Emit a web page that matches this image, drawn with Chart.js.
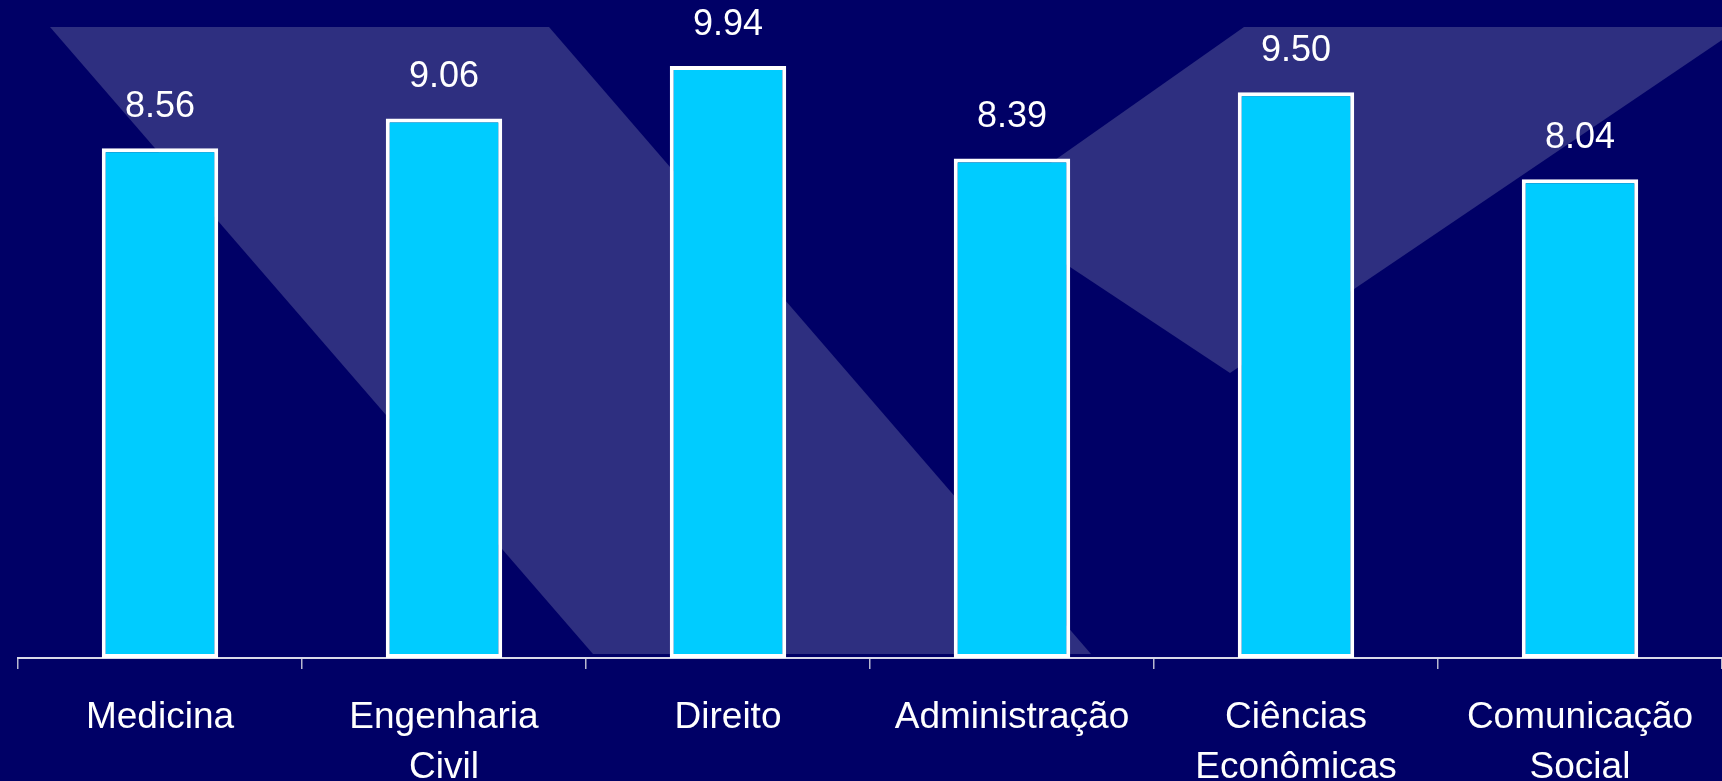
<!DOCTYPE html>
<html>
<head>
<meta charset="utf-8">
<script src="https://cdn.jsdelivr.net/npm/chart.js@4.4.1/dist/chart.umd.min.js"></script>
<style>
  html, body { margin: 0; padding: 0; background: #000066; }
  #wrap { width: 1722px; height: 781px; position: relative; }
</style>
</head>
<body>
<div id="wrap"><canvas id="notas"></canvas></div>
<script>
// categories and averages
const cursos = [["Medicina"], ["Engenharia", "Civil"], ["Direito"], ["Administração"], ["Ciências", "Econômicas"], ["Comunicação", "Social"]];
const medias = [8.56, 9.06, 9.94, 8.39, 9.50, 8.04];

const fonte = "'Liberation Sans', Arial, sans-serif";

// slide background with the pale logo shape behind the bars
const fundo = {
    id: "fundo",
    beforeDraw(chart) {
        const c = chart.ctx;
        c.save();
        c.fillStyle = "#000066";
        c.fillRect(0, 0, chart.width, chart.height);
        c.fillStyle = "#2e2f80";
        c.beginPath();
        c.moveTo(50, 27); c.lineTo(549, 27); c.lineTo(1091, 654); c.lineTo(593, 654);
        c.closePath();
        c.fill();
        c.beginPath();
        c.moveTo(1244, 27); c.lineTo(1722, 27); c.lineTo(1722, 40); c.lineTo(1230, 373); c.lineTo(984, 210);
        c.closePath();
        c.fill();
        c.restore();
    }
};

// value printed above every bar
const rotulos = {
    id: "rotulos",
    afterDatasetsDraw(chart) {
        const c = chart.ctx;
        const meta = chart.getDatasetMeta(0);
        c.save();
        c.fillStyle = "#ffffff";
        c.font = "36px " + fonte;
        c.textAlign = "center";
        c.textBaseline = "alphabetic";
        meta.data.forEach((bar, i) => {
            c.fillText(medias[i].toFixed(2), bar.x, bar.y - 31);
        });
        c.restore();
    }
};

ctx = document.getElementById("notas").getContext("2d");
grafico = new Chart(ctx, {
    type: "bar",
    data: {
        labels: cursos,
        datasets: [{
            data: medias,
            backgroundColor: "#00ccff",
            borderColor: "#ffffff",
            borderWidth: 4,
            borderSkipped: false,
            barPercentage: 0.41,
            categoryPercentage: 1
        }]
    },
    options: {
        responsive: true,
        maintainAspectRatio: false,
        animation: false,
        layout: { padding: { left: 18, right: 0, top: 0, bottom: 0 } },
        scales: {
            x: {
                grid: {
                    drawOnChartArea: false,
                    drawTicks: true,
                    tickLength: 11,
                    color: "#b8b8d0",
                    lineWidth: 1.5
                },
                border: { color: "#d8d8e8", width: 2 },
                ticks: {
                    color: "#ffffff",
                    padding: 24,
                    autoSkip: false,
                    maxRotation: 0,
                    font: { family: fonte, size: 37, lineHeight: 1.35 }
                },
                afterFit(scale) { scale.height = 123; }
            },
            y: {
                display: false,
                min: 0,
                max: 11.05
            }
        },
        plugins: {
            legend: { display: false },
            tooltip: { enabled: false }
        }
    },
    plugins: [fundo, rotulos]
});
</script>
</body>
</html>
